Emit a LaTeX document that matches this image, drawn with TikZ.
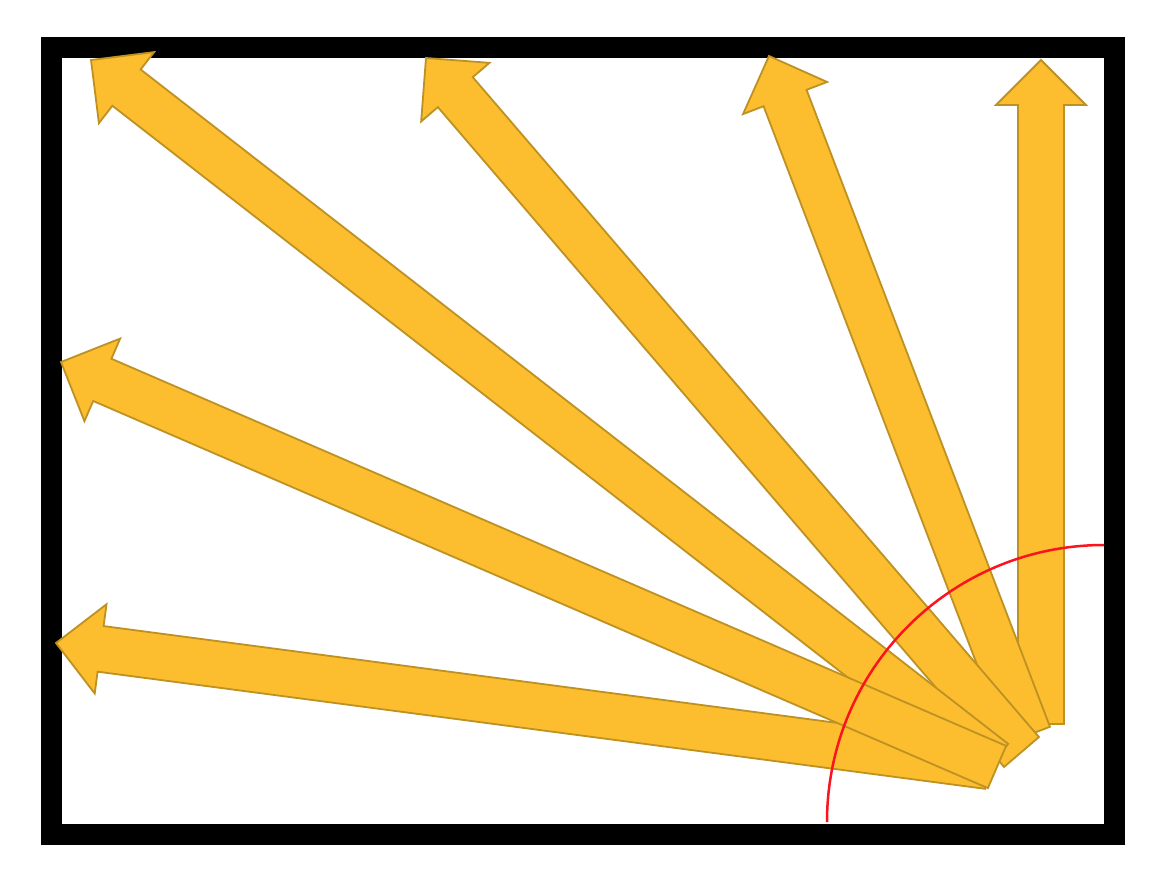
\documentclass[tikz,border=0pt]{standalone}
\usetikzlibrary{calc}
\definecolor{arrfill}{RGB}{252,189,47}
\definecolor{arrline}{RGB}{190,145,35}
\definecolor{arcred}{RGB}{250,20,30}
\tikzset{
  blockarrow/.style={fill=arrfill,draw=arrline,line width=1.8pt,line join=miter},
  framebox/.style={draw=black,line width=21pt},
  arcline/.style={draw=arcred,line width=2.5pt}
}
% #1 base centre, #2 tip
\newcommand{\blockarr}[2]{%
  \path ($(#2)!45pt!(#1)$) coordinate (hd);
  \draw[blockarrow] ($(#1)!23pt!90:(#2)$) -- ($(hd)!23pt!90:(#2)$) -- ($(hd)!45pt!90:(#2)$)
    -- (#2) -- ($(hd)!45pt!-90:(#2)$) -- ($(hd)!23pt!-90:(#2)$) -- ($(#1)!23pt!-90:(#2)$) -- cycle;
}
\begin{document}
\begin{tikzpicture}[x=1pt,y=-1pt]
\path[fill=white] (0,0) rectangle (1171,878);
\useasboundingbox (0,0) rectangle (1171,878);
\draw[framebox] (51.5,47.5) rectangle (1114.5,834.5);
\coordinate (b1) at (1041,724);   \coordinate (t1) at (1041,60);
\coordinate (b2) at (1028.5,735); \coordinate (t2) at (769,56);
\coordinate (b3) at (1021.5,752); \coordinate (t3) at (426,58);
\coordinate (b4) at (994,762);    \coordinate (t4) at (91,60);
\coordinate (b5) at (997,767);    \coordinate (t5) at (61,362);
\coordinate (b6) at (988,766);    \coordinate (t6) at (56,643);
\blockarr{b1}{t1}
\blockarr{b2}{t2}
\blockarr{b3}{t3}
\blockarr{b4}{t4}
\blockarr{b6}{t6}
\blockarr{b5}{t5}
\coordinate (arcstart) at (827,822);
\draw[arcline] (arcstart) arc[start angle=180,end angle=270,radius=277];
\end{tikzpicture}
\end{document}
